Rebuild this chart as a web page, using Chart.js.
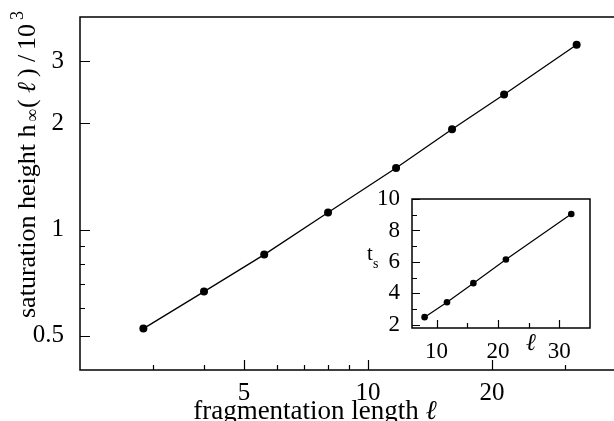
<!DOCTYPE html>
<html>
<head>
<meta charset="utf-8">
<script src="https://cdn.jsdelivr.net/npm/chart.js@4/dist/chart.umd.min.js"></script>
<style>
  html, body { margin: 0; padding: 0; background: #fff; overflow: hidden; }
  #main { position: absolute; left: 0; top: 0; width: 620px; height: 421px; }
  #inset { position: absolute; left: 360px; top: 180px; width: 240px; height: 180px; }
</style>
</head>
<body>
<div id="main"><canvas id="mainChart"></canvas></div>
<div id="inset"><canvas id="insetChart"></canvas></div>
<script>
// saturation height vs fragmentation length (log-log)
const mainLength = [2.85, 4.0, 5.6, 8.0, 11.7, 16.0, 21.4, 32.1];
const mainHeight = [0.524, 0.667, 0.849, 1.117, 1.493, 1.923, 2.413, 3.338];
const mainXTicks = [3, 4, 5, 6, 7, 8, 9, 10, 20, 30];
const mainXLabels = [5, 10, 20];
const mainYTicks = [0.5, 0.6, 0.7, 0.8, 0.9, 1, 2, 3];
const mainYLabels = [0.5, 1, 2, 3];

// saturation time vs fragmentation length (linear)
const insetLength = [8.05, 11.7, 16.0, 21.3, 31.95];
const insetTime = [2.49, 3.44, 4.65, 6.15, 9.05];
const insetXTicks = [10, 15, 20, 25, 30];
const insetXLabels = [10, 20, 30];
const insetYTicks = [2, 3, 4, 5, 6, 7, 8, 9, 10];
const insetYLabels = [2, 4, 6, 8, 10];

const SERIF = 'Liberation Serif';
Chart.defaults.font.family = SERIF;
Chart.defaults.color = '#000';

// box around the plot area with inward-pointing ticks on the left and bottom
function frameTicks(cfg) {
  return {
    id: 'frameTicks',
    afterDraw(chart) {
      const { ctx, chartArea: a, scales: { x, y } } = chart;
      ctx.save();
      ctx.strokeStyle = '#000';
      ctx.lineWidth = 1.2;
      ctx.beginPath();
      for (const v of cfg.xTicks) {
        const px = Math.round(x.getPixelForValue(v)) + 0.5;
        const len = cfg.xMajor.includes(v) ? cfg.major : cfg.minor;
        ctx.moveTo(px, a.bottom);
        ctx.lineTo(px, a.bottom - len);
      }
      for (const v of cfg.yTicks) {
        const py = Math.round(y.getPixelForValue(v)) + 0.5;
        const len = cfg.yMajor.includes(v) ? cfg.major : cfg.minor;
        ctx.moveTo(a.left, py);
        ctx.lineTo(a.left + len, py);
      }
      ctx.stroke();
      ctx.lineWidth = cfg.frame;
      ctx.strokeRect(a.left, a.top, a.right - a.left, a.bottom - a.top);
      ctx.restore();
    }
  };
}

function fixedTicks(list) {
  return (scale) => { scale.ticks = list.map(v => ({ value: v })); };
}

// keep the plot area exactly where the layout padding puts it
function fitX(h) {
  return (s) => { s.height = h; s.paddingLeft = 0; s.paddingRight = 0; };
}
function fitY(w) {
  return (s) => { s.width = w; s.paddingTop = 0; s.paddingBottom = 0; };
}

// axis titles for the main panel
const mainTitles = {
  id: 'mainTitles',
  afterDraw(chart) {
    const ctx = chart.ctx;
    ctx.save();
    ctx.fillStyle = '#000';
    ctx.textBaseline = 'alphabetic';

    // x title
    const fx = '27px ' + SERIF;
    const fxi = 'italic 27px ' + SERIF;
    ctx.font = fx;
    const t1 = 'fragmentation length ';
    const w1 = ctx.measureText(t1).width;
    ctx.font = fxi;
    const w2 = ctx.measureText('\u2113').width;
    const xs = 315 - (w1 + w2) / 2;
    ctx.font = fx;
    ctx.fillText(t1, xs, 419);
    ctx.font = fxi;
    ctx.fillText('\u2113', xs + w1, 419);

    // y title, rotated; pieces laid out like a typeset math label
    const fy = '26px ' + SERIF;
    const fyi = 'italic 26px ' + SERIF;
    const fs = '18px ' + SERIF;
    ctx.translate(35, 318);
    ctx.rotate(-Math.PI / 2);
    const parts = [
      { t: 'saturation height h', f: fy, at: 0, dy: 0 },
      { t: '\u221e', f: fs, at: 196, dy: 3 },
      { t: '(', f: fy, at: 210, dy: 0 },
      { t: '\u2113', f: fyi, at: 225, dy: 0 },
      { t: ')', f: fy, at: 241, dy: 0 },
      { t: '/', f: fy, at: 256, dy: 0 },
      { t: '10', f: fy, at: 268, dy: 0 },
      { t: '3', f: fs, at: 298, dy: -12 }
    ];
    for (const p of parts) {
      ctx.font = p.f;
      ctx.fillText(p.t, p.at, p.dy);
    }
    ctx.restore();
  }
};

// axis titles for the inset
const insetTitles = {
  id: 'insetTitles',
  afterDraw(chart) {
    const ctx = chart.ctx;
    ctx.save();
    ctx.fillStyle = '#000';
    ctx.font = '21px ' + SERIF;
    ctx.fillText('t', 7, 80);
    ctx.font = '14px ' + SERIF;
    ctx.fillText('s', 13, 88);
    ctx.font = 'italic 24px ' + SERIF;
    ctx.textAlign = 'center';
    ctx.fillText('\u2113', 171, 170);
    ctx.restore();
  }
};

function drawCharts() {
  new Chart(document.getElementById('mainChart'), {
    type: 'scatter',
    data: {
      datasets: [{
        data: mainLength.map((v, i) => ({ x: v, y: mainHeight[i] })),
        showLine: true,
        borderColor: '#000',
        borderWidth: 1.3,
        backgroundColor: '#000',
        pointRadius: 4,
        pointBorderWidth: 0
      }]
    },
    options: {
      responsive: true,
      maintainAspectRatio: false,
      animation: false,
      events: [],
      layout: { padding: { top: 17, right: 2, left: 0, bottom: 0 } },
      plugins: { legend: { display: false }, tooltip: { enabled: false } },
      scales: {
        x: {
          type: 'logarithmic',
          min: 2, max: 40,
          afterBuildTicks: fixedTicks(mainXTicks),
          afterFit: fitX(51),
          grid: { display: false },
          border: { display: false },
          ticks: {
            autoSkip: false, maxRotation: 0, padding: 0,
            color: '#000', font: { family: SERIF, size: 25 },
            callback: (v) => mainXLabels.includes(v) ? String(v) : ''
          }
        },
        y: {
          type: 'logarithmic',
          min: 0.4, max: 4,
          afterBuildTicks: fixedTicks(mainYTicks),
          afterFit: fitY(80),
          grid: { display: false },
          border: { display: false },
          ticks: {
            autoSkip: false, padding: 8,
            color: '#000', font: { family: SERIF, size: 25 },
            callback: (v) => mainYLabels.includes(v) ? String(v) : ''
          }
        }
      }
    },
    plugins: [frameTicks({ xTicks: mainXTicks, xMajor: mainXLabels, yTicks: mainYTicks, yMajor: mainYLabels, major: 10, minor: 5, frame: 1.5 }), mainTitles]
  });

  new Chart(document.getElementById('insetChart'), {
    type: 'scatter',
    data: {
      datasets: [{
        data: insetLength.map((v, i) => ({ x: v, y: insetTime[i] })),
        showLine: true,
        borderColor: '#000',
        borderWidth: 1.2,
        backgroundColor: '#000',
        pointRadius: 3.3,
        pointBorderWidth: 0
      }]
    },
    options: {
      responsive: true,
      maintainAspectRatio: false,
      animation: false,
      events: [],
      layout: { padding: { top: 19, right: 10, left: 0, bottom: 0 } },
      plugins: { legend: { display: false }, tooltip: { enabled: false } },
      scales: {
        x: {
          type: 'linear',
          min: 6, max: 35,
          afterBuildTicks: fixedTicks(insetXTicks),
          afterFit: fitX(32),
          grid: { display: false },
          border: { display: false },
          ticks: {
            autoSkip: false, maxRotation: 0, padding: 2,
            color: '#000', font: { family: SERIF, size: 23 },
            callback: (v) => insetXLabels.includes(v) ? String(v) : ''
          }
        },
        y: {
          type: 'linear',
          min: 1.8, max: 10,
          afterBuildTicks: fixedTicks(insetYTicks),
          afterFit: fitY(52),
          grid: { display: false },
          border: { display: false },
          ticks: {
            autoSkip: false, padding: 4,
            color: '#000', font: { family: SERIF, size: 23 },
            callback: (v) => insetYLabels.includes(v) ? String(v) : ''
          }
        }
      }
    },
    plugins: [frameTicks({ xTicks: insetXTicks, xMajor: insetXLabels, yTicks: insetYTicks, yMajor: insetYLabels, major: 8, minor: 5, frame: 1.5 }), insetTitles]
  });
}

drawCharts();
</script>
</body>
</html>
